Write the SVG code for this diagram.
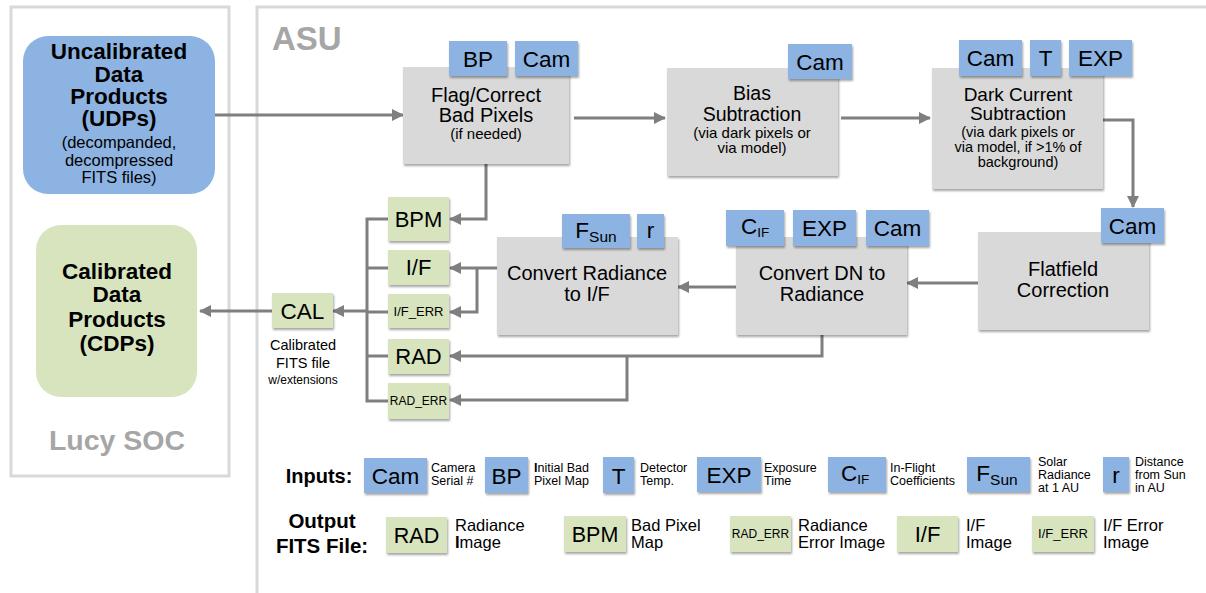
<svg xmlns="http://www.w3.org/2000/svg" width="1206" height="593" viewBox="0 0 1206 593">
<defs>
<filter id="sh" x="-10%" y="-10%" width="130%" height="140%">
<feDropShadow dx="1" dy="2" stdDeviation="1.2" flood-color="#000" flood-opacity="0.35"/>
</filter>
<marker id="ah" viewBox="0 0 12 12" refX="11" refY="6" markerWidth="12" markerHeight="12" markerUnits="userSpaceOnUse" orient="auto">
<path d="M0,0 L12,6 L0,12 z" fill="#7f7f7f"/>
</marker>
<style>
text{font-family:"Liberation Sans",Arial,sans-serif;fill:#000}
.b{font-weight:bold}
.c{text-anchor:middle}
.blue{fill:#8db3e2;filter:url(#sh)}
.green{fill:#d7e4bd;filter:url(#sh)}
.gray{fill:#d9d9d9;filter:url(#sh)}
.tag{font-size:22.5px;text-anchor:middle}
.main{font-size:19.5px;text-anchor:middle}
.sm{font-size:15px;text-anchor:middle}
.leg{font-size:12.5px}
.leg2{font-size:16.5px}
.cn{fill:none;stroke:#7f7f7f;stroke-width:3}
.frame{fill:none;stroke:#d9d9d9;stroke-width:3}
</style>
</defs>
<rect width="1206" height="593" fill="#fff"/>
<g id="panels">
<rect class="frame" x="11" y="7" width="218" height="469"/>
<path class="frame" d="M257,593 V7 H1206"/>
<text x="272" y="50" class="b" style="font-size:33px;fill:#a6a6a6">ASU</text>
<text x="117" y="450" class="b c" style="font-size:28.5px;fill:#a6a6a6">Lucy SOC</text>
</g>
<g id="connectors">
<path class="cn" d="M215,115 H403" marker-end="url(#ah)"/>
<path class="cn" d="M574,118 H665" marker-end="url(#ah)"/>
<path class="cn" d="M841,118 H930" marker-end="url(#ah)"/>
<path class="cn" d="M1103,120 H1133 V207" marker-end="url(#ah)"/>
<path class="cn" d="M978,283 H907" marker-end="url(#ah)"/>
<path class="cn" d="M736,287 H678" marker-end="url(#ah)"/>
<path class="cn" d="M497,268 H450" marker-end="url(#ah)"/>
<path class="cn" d="M477,268 V312 H450" marker-end="url(#ah)"/>
<path class="cn" d="M486,164 V219 H450" marker-end="url(#ah)"/>
<path class="cn" d="M822,335 V356 H450" marker-end="url(#ah)"/>
<path class="cn" d="M627,356 V400 H450" marker-end="url(#ah)"/>
<path class="cn" d="M388,219 H367 V401 H388 M367,268 H388 M367,312 H388 M367,356 H388"/>
<path class="cn" d="M367,311 H333" marker-end="url(#ah)"/>
<path class="cn" d="M272,311 H200" marker-end="url(#ah)"/>
</g>
<g id="udp">
<rect x="23" y="36" width="192" height="158" rx="25" fill="#8db3e2"/>
<text class="b c" style="font-size:22.5px"><tspan x="119" y="59">Uncalibrated</tspan><tspan x="119" y="82">Data</tspan><tspan x="119" y="104">Products</tspan><tspan x="119" y="126">(UDPs)</tspan></text>
<text class="c" style="font-size:16.5px"><tspan x="119" y="148">(decompanded,</tspan><tspan x="119" y="166">decompressed</tspan><tspan x="119" y="183">FITS files)</tspan></text>
</g>
<g id="cdp">
<rect x="36" y="225" width="161" height="172" rx="25" fill="#d7e4bd"/>
<text class="b c" style="font-size:22.5px"><tspan x="117" y="279">Calibrated</tspan><tspan x="117" y="302">Data</tspan><tspan x="117" y="327">Products</tspan><tspan x="117" y="351">(CDPs)</tspan></text>
</g>
<g id="flag">
<rect class="gray" x="403" y="67" width="166" height="97"/>
<text class="main" style="font-size:20px"><tspan x="486" y="102">Flag/Correct</tspan><tspan x="486" y="122">Bad Pixels</tspan></text>
<text class="sm" x="486" y="139">(if needed)</text>
<rect class="blue" x="449" y="41" width="58" height="35"/>
<text class="tag" x="478" y="67">BP</text>
<rect class="blue" x="515" y="41" width="63" height="35"/>
<text class="tag" x="546.5" y="67">Cam</text>
</g>
<g id="bias">
<rect class="gray" x="667" y="68" width="171" height="108"/>
<text class="main"><tspan x="752" y="100">Bias</tspan><tspan x="752" y="121">Subtraction</tspan></text>
<text class="sm"><tspan x="752" y="138">(via dark pixels or</tspan><tspan x="752" y="153">via model)</tspan></text>
<rect class="blue" x="788" y="44" width="64" height="35"/>
<text class="tag" x="820" y="70">Cam</text>
</g>
<g id="dark">
<rect class="gray" x="932" y="68" width="171" height="121"/>
<text class="main" style="font-size:19px"><tspan x="1018" y="101">Dark Current</tspan><tspan x="1018" y="120">Subtraction</tspan></text>
<text class="sm" style="font-size:14.5px"><tspan x="1018" y="137">(via dark pixels or</tspan><tspan x="1018" y="152">via model, if &gt;1% of</tspan><tspan x="1018" y="167">background)</tspan></text>
<rect class="blue" x="959" y="40" width="63" height="36"/>
<text class="tag" x="990.5" y="66">Cam</text>
<rect class="blue" x="1030" y="40" width="31" height="36"/>
<text class="tag" x="1045.5" y="66">T</text>
<rect class="blue" x="1069" y="40" width="63" height="36"/>
<text class="tag" x="1100.5" y="66">EXP</text>
</g>
<g id="flatfield">
<rect class="gray" x="978" y="232" width="171" height="98"/>
<text class="main" style="font-size:20px"><tspan x="1063" y="276">Flatfield</tspan><tspan x="1063" y="297">Correction</tspan></text>
<rect class="blue" x="1101" y="208" width="63" height="35"/>
<text class="tag" x="1132.5" y="234">Cam</text>
</g>
<g id="convertdn">
<rect class="gray" x="736" y="237" width="171" height="98"/>
<text class="main" style="font-size:20px"><tspan x="822" y="280">Convert DN to</tspan><tspan x="822" y="301">Radiance</tspan></text>
<rect class="blue" x="726" y="210" width="58" height="36"/>
<text class="tag" x="755" y="234">C<tspan style="font-size:13.5px" dy="3">IF</tspan></text>
<rect class="blue" x="793" y="210" width="63" height="36"/>
<text class="tag" x="824.5" y="236">EXP</text>
<rect class="blue" x="866" y="210" width="63" height="36"/>
<text class="tag" x="897.5" y="236">Cam</text>
</g>
<g id="convertrad">
<rect class="gray" x="497" y="237" width="181" height="98"/>
<text class="main" style="font-size:20px"><tspan x="587" y="280">Convert Radiance</tspan><tspan x="587" y="301">to I/F</tspan></text>
<rect class="blue" x="562" y="214" width="68" height="34"/>
<text class="tag" x="596" y="238">F<tspan style="font-size:15.5px" dy="4">Sun</tspan></text>
<rect class="blue" x="637" y="214" width="27" height="34"/>
<text class="tag" x="650.5" y="238">r</text>
</g>
<g id="bpm">
<rect class="green" x="388" y="197" width="61" height="44"/>
<text class="tag" x="418.5" y="227" style="font-size:22px">BPM</text>
</g>
<g id="if">
<rect class="green" x="388" y="250" width="61" height="35"/>
<text class="tag" x="418.5" y="275" style="font-size:22px">I/F</text>
</g>
<g id="iferr">
<rect class="green" x="388" y="294" width="61" height="34"/>
<text class="tag" x="418.5" y="316" style="font-size:13px">I/F_ERR</text>
</g>
<g id="rad">
<rect class="green" x="388" y="339" width="61" height="35"/>
<text class="tag" x="418.5" y="364" style="font-size:22px">RAD</text>
</g>
<g id="raderr">
<rect class="green" x="388" y="383" width="61" height="36"/>
<text class="tag" x="418.5" y="405" style="font-size:12px">RAD_ERR</text>
</g>
<g id="cal">
<rect class="green" x="272" y="293" width="61" height="35"/>
<text class="tag" x="302.5" y="319">CAL</text>
<text class="c" style="font-size:14.5px"><tspan x="303" y="350">Calibrated</tspan><tspan x="303" y="368">FITS file</tspan></text>
<text class="c" x="303" y="384" style="font-size:12px">w/extensions</text>
</g>
<g id="legend-inputs">
<text class="b c" x="319" y="483" style="font-size:20px">Inputs:</text>
<rect class="blue" x="364" y="458" width="63" height="35"/>
<text class="tag" x="395.5" y="484">Cam</text>
<text class="leg"><tspan x="431" y="472">Camera</tspan><tspan x="431" y="485">Serial #</tspan></text>
<rect class="blue" x="485" y="457" width="43" height="36"/>
<text class="tag" x="506.5" y="484">BP</text>
<text class="leg"><tspan x="534" y="472"><tspan class="b">I</tspan>nitial Bad</tspan><tspan x="534" y="485">Pixel Map</tspan></text>
<rect class="blue" x="603" y="457" width="31" height="36"/>
<text class="tag" x="618.5" y="484">T</text>
<text class="leg"><tspan x="640" y="472">Detector</tspan><tspan x="640" y="485">Temp.</tspan></text>
<rect class="blue" x="697" y="457" width="64" height="35"/>
<text class="tag" x="729" y="483">EXP</text>
<text class="leg"><tspan x="764" y="472">Exposure</tspan><tspan x="764" y="485">Time</tspan></text>
<rect class="blue" x="828" y="457" width="58" height="35"/>
<text class="tag" x="855" y="481">C<tspan style="font-size:13.5px" dy="3">IF</tspan></text>
<text class="leg"><tspan x="890" y="472">In-Flight</tspan><tspan x="890" y="485">Coefficients</tspan></text>
<rect class="blue" x="967" y="457" width="63" height="35"/>
<text class="tag" x="997" y="481">F<tspan style="font-size:15.5px" dy="4">Sun</tspan></text>
<text class="leg"><tspan x="1038" y="466">Solar</tspan><tspan x="1038" y="479">Radiance</tspan><tspan x="1038" y="492">at 1 AU</tspan></text>
<rect class="blue" x="1103" y="457" width="26" height="35"/>
<text class="tag" x="1116" y="483">r</text>
<text class="leg"><tspan x="1135" y="466">Distance</tspan><tspan x="1135" y="479">from Sun</tspan><tspan x="1135" y="492">in AU</tspan></text>
</g>
<g id="legend-outputs">
<text class="b c" style="font-size:20.5px"><tspan x="322" y="528">Output</tspan><tspan x="322" y="553">FITS File:</tspan></text>
<rect class="green" x="386" y="517" width="61" height="36"/>
<text class="tag" x="416.5" y="543" style="font-size:21.5px">RAD</text>
<text class="leg2"><tspan x="455" y="531">Radiance</tspan><tspan x="455" y="548"><tspan class="b">I</tspan>mage</tspan></text>
<rect class="green" x="564" y="516" width="62" height="36"/>
<text class="tag" x="595" y="542" style="font-size:21.5px">BPM</text>
<text class="leg2"><tspan x="631" y="531">Bad Pixel</tspan><tspan x="631" y="548">Map</tspan></text>
<rect class="green" x="730" y="516" width="61" height="36"/>
<text class="tag" x="760.5" y="538" style="font-size:12px">RAD_ERR</text>
<text class="leg2"><tspan x="798" y="531">Radiance</tspan><tspan x="798" y="548">Error Image</tspan></text>
<rect class="green" x="897" y="516" width="61" height="36"/>
<text class="tag" x="927.5" y="542" style="font-size:22px">I/F</text>
<text class="leg2"><tspan x="966" y="531">I/F</tspan><tspan x="966" y="548">Image</tspan></text>
<rect class="green" x="1032" y="516" width="62" height="36"/>
<text class="tag" x="1063" y="538" style="font-size:13px">I/F_ERR</text>
<text class="leg2"><tspan x="1103" y="531">I/F Error</tspan><tspan x="1103" y="548">Image</tspan></text>
</g>
</svg>
